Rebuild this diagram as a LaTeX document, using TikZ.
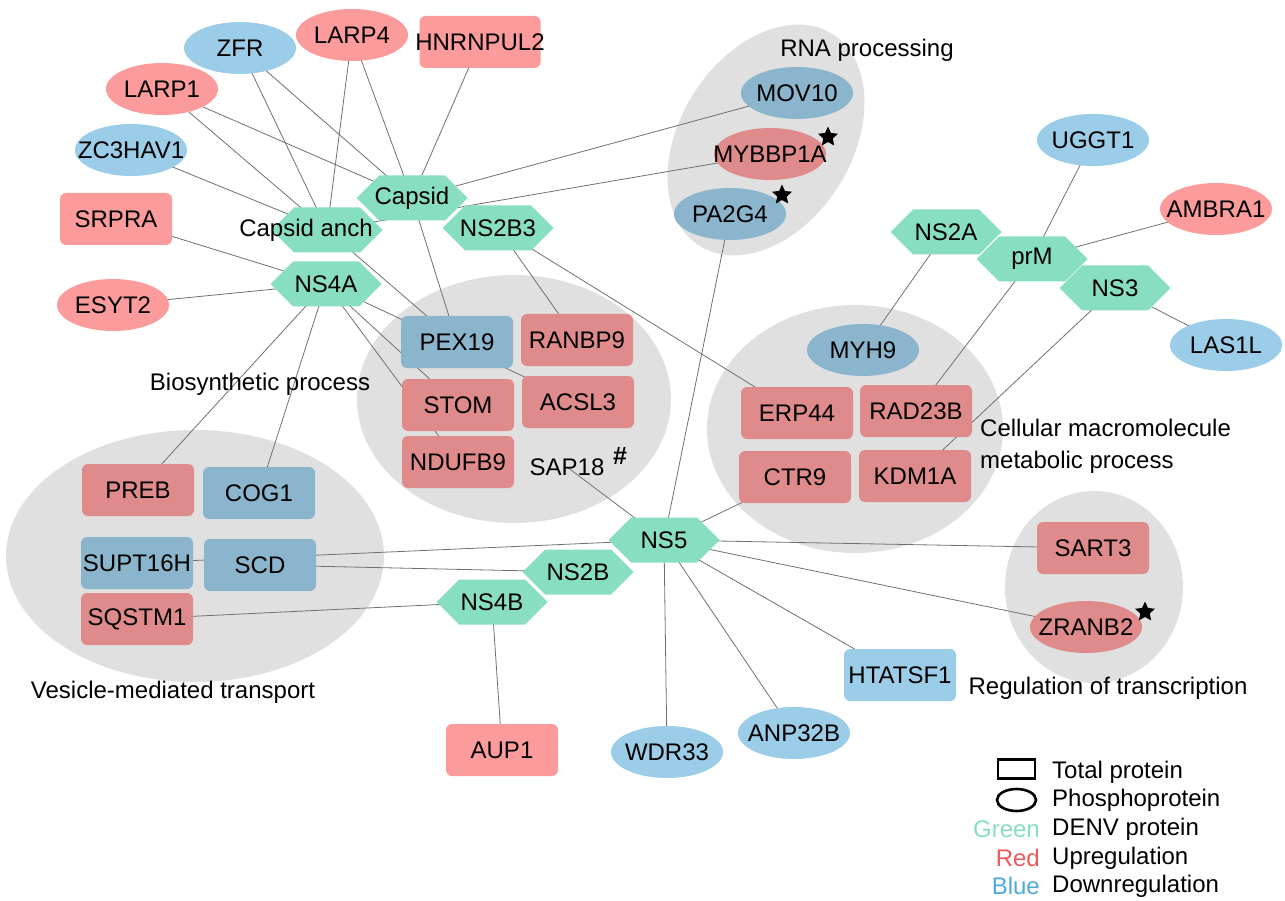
\documentclass[tikz,border=0pt]{standalone}
\usepackage{fontspec}
\setmainfont{Liberation Sans}
\usetikzlibrary{shapes.geometric,shapes.symbols}

\definecolor{hexgreen}{HTML}{88DEC0}
\definecolor{redout}{HTML}{FB9B9B}
\definecolor{redin}{HTML}{DF8B8B}
\definecolor{blueout}{HTML}{9BCDE8}
\definecolor{bluein}{HTML}{8AB5CC}
\definecolor{clustergray}{HTML}{E0E0E0}
\definecolor{linkgray}{HTML}{707070}
\definecolor{legred}{HTML}{F0575C}
\definecolor{legblue}{HTML}{4FA9DC}

\pgfdeclarelayer{clusterlayer}
\pgfdeclarelayer{edgelayer}
\pgfsetlayers{clusterlayer,edgelayer,main}

\tikzset{
  every node/.append style={font=\fontsize{24}{28}\selectfont, inner sep=0pt},
  prot/.style={execute at begin node={\hbox to 0pt\bgroup\hss},
               execute at end node={\hss\egroup}},
  box/.style={prot, rectangle, rounded corners=6pt, minimum width=112, minimum height=52},
  ell/.style={prot, ellipse, minimum width=112, minimum height=52},
  rbox/.style={box, fill=redout},
  rboxin/.style={box, fill=redin},
  bbox/.style={box, fill=blueout},
  bboxin/.style={box, fill=bluein},
  rell/.style={ell, fill=redout},
  rellin/.style={ell, fill=redin},
  bell/.style={ell, fill=blueout},
  bellin/.style={ell, fill=bluein},
  vprot/.style={prot, signal, signal to=east and west, signal pointer angle=90,
                fill=hexgreen, minimum width=111, minimum height=45},
  link/.style={draw=linkgray, line width=0.8pt},
  cluster/.style={fill=clustergray},
  starmark/.style={star, star points=5, star point ratio=2.1, fill=black, minimum size=21}
}

\begin{document}
\begin{tikzpicture}[x=1pt,y=-1pt]
\useasboundingbox (0,0) rectangle (1285,901);

% gray GO clusters
\begin{pgfonlayer}{clusterlayer}
\fill[cluster, rotate around={58:(766,140)}] (766,140) ellipse (125 and 86);
\fill[cluster] (514,399) ellipse (157 and 124);
\fill[cluster] (195,556) ellipse (189 and 126);
\fill[cluster] (855,429) ellipse (148 and 124);
\fill[cluster] (1094,587) ellipse (89 and 96);
\end{pgfonlayer}

% DENV proteins
\node[vprot] (capsid) at (412,198) {Capsid};
\node[vprot] (capanch) at (327,230) {\hspace*{-42pt}Capsid anch};
\node[vprot] (ns4a) at (326,284) {NS4A};
\node[vprot] (ns2b3) at (498,228) {NS2B3};
\node[vprot] (ns2a) at (946,232) {NS2A};
\node[vprot] (prm) at (1032,259) {prM};
\node[vprot] (ns3) at (1115,288) {NS3};
\node[vprot] (ns5) at (664,540) {NS5};
\node[vprot] (ns2b) at (578,572) {NS2B};
\node[vprot] (ns4b) at (492,602) {NS4B};

% host proteins
\node[bell] (zfr) at (240,48) {ZFR};
\node[rell] (larp4) at (352,35) {LARP4};
\node[rbox, minimum width=121] (hnrnpul2) at (480,42) {HNRNPUL2};
\node[rell] (larp1) at (162,89) {LARP1};
\node[bell] (zc3hav1) at (131,150) {ZC3HAV1};
\node[rbox] (srpra) at (116,219) {SRPRA};
\node[rell] (esyt2) at (113,305) {ESYT2};

\node[bellin] (mov10) at (797,93) {MOV10};
\node[rellin] (mybbp1a) at (770,154) {MYBBP1A};
\node[bellin] (pa2g4) at (730,214) {PA2G4};

\node[bell] (uggt1) at (1093,140) {UGGT1};
\node[rell] (ambra1) at (1216,209) {AMBRA1};
\node[bell] (las1l) at (1226,345) {LAS1L};

\node[bboxin] (pex19) at (457,342) {PEX19};
\node[rboxin] (ranbp9) at (577,340) {RANBP9};
\node[rboxin] (stom) at (458,405) {STOM};
\node[rboxin] (acsl3) at (578,402) {ACSL3};
\node[rboxin] (ndufb9) at (458,462) {NDUFB9};
\node (sap18) at (567,467) {SAP18};
\node[font=\fontsize{25}{28}\selectfont\bfseries] (hash) at (620,456) {\#};

\node[bellin] (myh9) at (863,350) {MYH9};
\node[rboxin] (erp44) at (797,413) {ERP44};
\node[rboxin] (rad23b) at (916,411) {RAD23B};
\node[rboxin] (ctr9) at (795,477) {CTR9};
\node[rboxin] (kdm1a) at (915,476) {KDM1A};

\node[rboxin] (preb) at (138,490) {PREB};
\node[bboxin] (cog1) at (259,493) {COG1};
\node[bboxin] (supt16h) at (137,563) {SUPT16H};
\node[bboxin] (scd) at (260,565) {SCD};
\node[rboxin] (sqstm1) at (137,619) {SQSTM1};

\node[rboxin] (sart3) at (1093,548) {SART3};
\node[rellin] (zranb2) at (1086,627) {ZRANB2};

\node[rbox] (aup1) at (502,750) {AUP1};
\node[bell] (wdr33) at (667,752) {WDR33};
\node[bell] (anp32b) at (794,733) {ANP32B};
\node[bbox] (htatsf1) at (900,675) {HTATSF1};

% stars
\node[starmark] (starmyb) at (828,137) {};
\node[starmark] (starpa) at (782,195) {};
\node[starmark] (starzr) at (1145,612) {};

% cluster labels
\node (rnalab) at (867,50) {RNA processing};
\node (biolab) at (260,384) {Biosynthetic process};
\node (veslab) at (173,692) {Vesicle-mediated transport};
\node[anchor=west, align=left, font=\fontsize{24}{32}\selectfont] (cellab) at (980,446) {Cellular macromolecule\\metabolic process};
\node (reglab) at (1108,688) {Regulation of transcription};

% interactions
\begin{pgfonlayer}{edgelayer}
\foreach \a/\b in {capsid/zfr, capsid/larp4, capsid/hnrnpul2, capsid/larp1, capsid/mov10, capsid/pex19,
  capanch/zfr, capanch/larp4, capanch/larp1, capanch/zc3hav1, capanch/mybbp1a, capanch/pex19,
  ns4a/srpra, ns4a/esyt2, ns4a/acsl3, ns4a/stom, ns4a/ndufb9, ns4a/preb, ns4a/cog1,
  ns2b3/ranbp9, ns2b3/erp44, ns2a/myh9, prm/uggt1, prm/ambra1, prm/rad23b, ns3/las1l, ns3/kdm1a,
  ns5/pa2g4, ns5/sap18, ns5/ctr9, ns5/supt16h, ns5/sart3, ns5/zranb2, ns5/htatsf1, ns5/anp32b, ns5/wdr33,
  ns2b/scd, ns4b/sqstm1, ns4b/aup1}
  \draw[link] (\a.center) -- (\b.center);
\end{pgfonlayer}

% legend
\node[draw, line width=2.6pt, minimum width=37, minimum height=19] (legbox) at (1016.5,769) {};
\node[draw, ellipse, line width=2.6pt, minimum width=39, minimum height=22] (legell) at (1016.5,800) {};
\node[anchor=west] (legtot) at (1052,772) {Total protein};
\node[anchor=west] (legpho) at (1052,800) {Phosphoprotein};
\node[anchor=west] (legdenv) at (1052,829) {DENV protein};
\node[anchor=west] (legup) at (1052,858) {Upregulation};
\node[anchor=west] (legdown) at (1052,886) {Downregulation};
\node[anchor=east, text=hexgreen] (leggreen) at (1040,829) {Green};
\node[anchor=east, text=legred] (legred) at (1040,858) {Red};
\node[anchor=east, text=legblue] (legblue) at (1040,886) {Blue};
\end{tikzpicture}
\end{document}
